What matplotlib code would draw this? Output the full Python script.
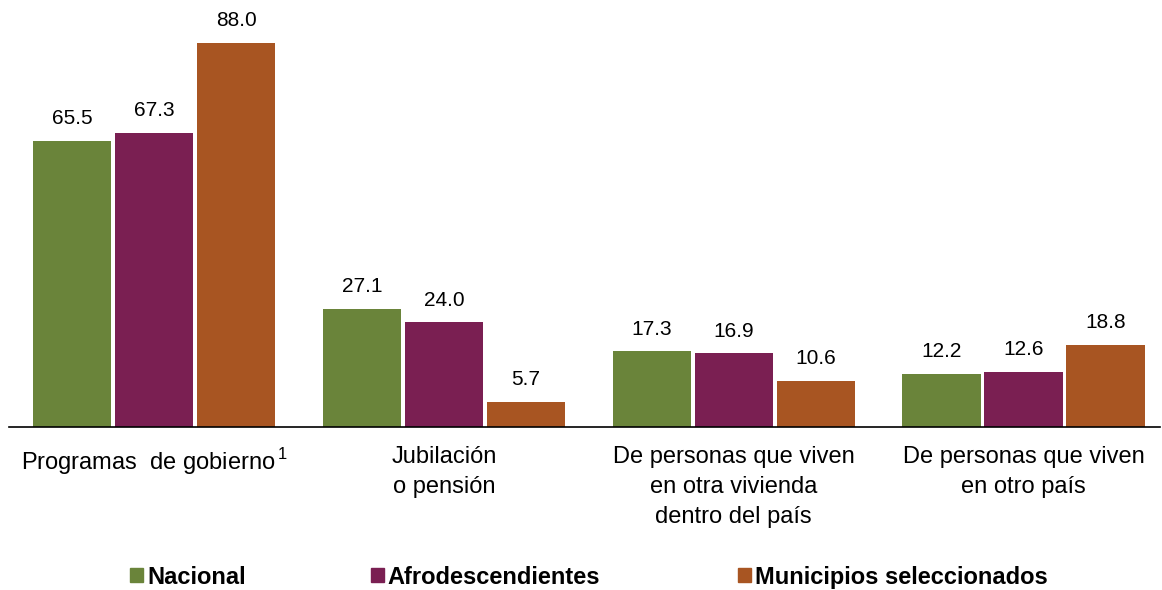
import matplotlib.pyplot as plt
import matplotlib.patches as mpatches
import numpy as np

plt.rcParams['font.family'] = ['Liberation Sans', 'DejaVu Sans']
plt.rcParams['mathtext.fontset'] = 'custom'
plt.rcParams['mathtext.rm'] = 'Liberation Sans'

categories = ['Programas  de gobierno$^{\\,1}$', 'Jubilación\no pensión',
              'De personas que viven\nen otra vivienda\ndentro del país',
              'De personas que viven\nen otro país']
series = ['Nacional', 'Afrodescendientes', 'Municipios seleccionados']
nacional = [65.5, 27.1, 17.3, 12.2]
afro = [67.3, 24.0, 16.9, 12.6]
municipios = [88.0, 5.7, 10.6, 18.8]
colors = ['#6a843a', '#7a1f52', '#a85522']

fig = plt.figure(figsize=(11.62, 5.90), dpi=100)
ax = fig.add_axes([0.008, 0.2763, 0.990, 0.7237])

x = np.arange(len(categories))
width = 0.27
step = 0.283
for i, (vals, c) in enumerate(zip([nacional, afro, municipios], colors)):
    pos = x + (i - 1) * step
    ax.bar(pos, vals, width, color=c, label=series[i])
    for xb, v in zip(pos, vals):
        ax.text(xb, v + 2.9, '%.1f' % v, ha='center', va='bottom', fontsize=15)

ax.set_xlim(-0.5, 3.47)
ax.set_ylim(0, 97.8)
ax.set_yticks([])
ax.set_xticks(x)
ax.set_xticklabels(categories, fontsize=17, linespacing=1.45)
ax.tick_params(axis='x', length=0, pad=14)
for s in ['top', 'right', 'left']:
    ax.spines[s].set_visible(False)
ax.spines['bottom'].set_linewidth(1.2)

# legend entries placed one by one, gaps between them are uneven
xs = [0.094, 0.301, 0.617]
for name, c, xl in zip(series, colors, xs):
    h = mpatches.Patch(color=c)
    fig.legend([h], [name], loc='center left', bbox_to_anchor=(xl, 0.022),
               frameon=False, handlelength=0.55, handleheight=0.55,
               handletextpad=0.15, prop={'weight': 'bold', 'size': 17})

fig.savefig('out.png', dpi=100)
